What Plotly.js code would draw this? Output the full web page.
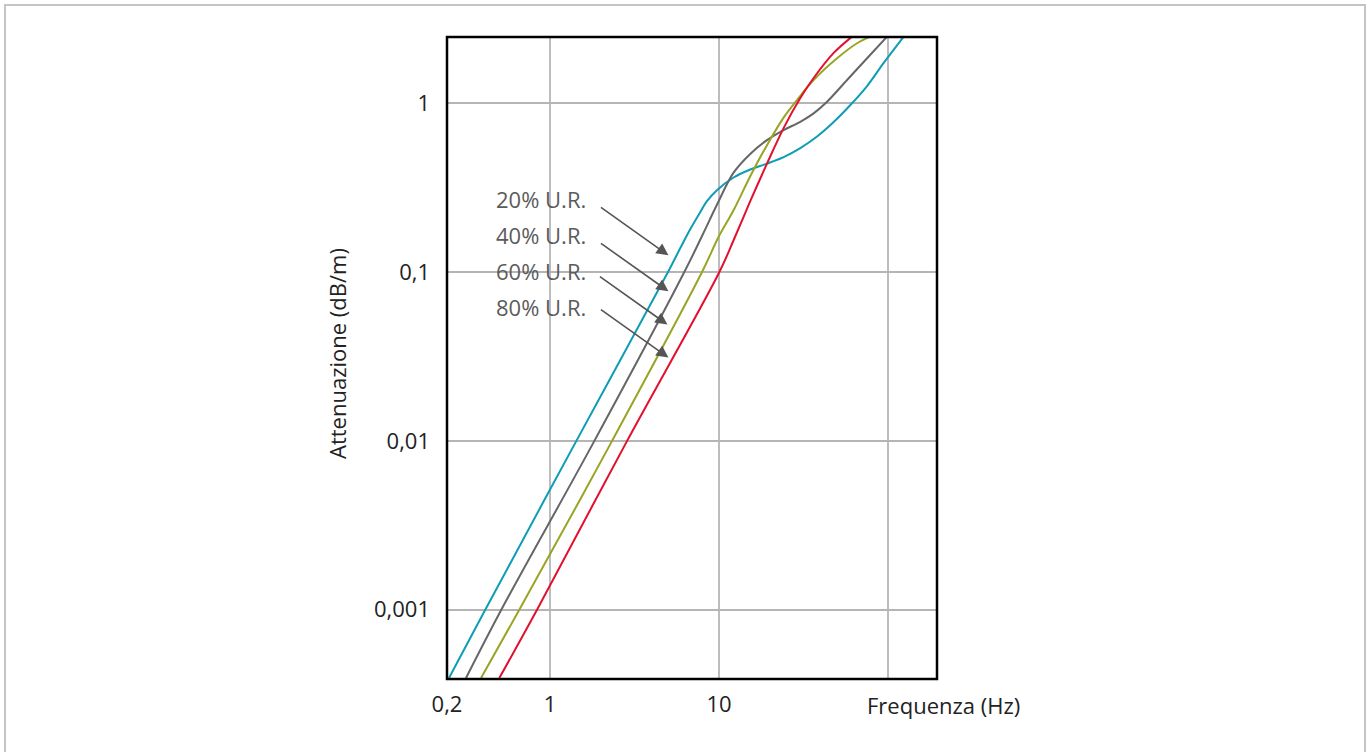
<!DOCTYPE html>
<html><head><meta charset="utf-8">
<script src="https://cdn.plot.ly/plotly-3.0.1.min.js"></script>
<style>
html,body{margin:0;padding:0;overflow:hidden;background:#fff}
#frame{position:absolute;left:4px;top:4px;width:1362px;height:820px;border:2px solid #c4c4c4;box-sizing:border-box;pointer-events:none}
</style>
</head><body>
<div id="chart" style="width:1371px;height:752px"></div>
<div id="frame"></div>
<script>
// Frequency (Hz) and attenuation (dB/m)
const freq20 = [0.2522, 0.412, 1.426, 4.981, 5.89, 6.751, 7.737, 8.479, 9.718, 12.19, 15.30, 19.22, 24.11, 30.27, 38.02, 47.70, 59.87, 75.19, 94.30, 123.9];
const att20  = [0.000394, 0.000993, 0.00993, 0.0995, 0.138, 0.1789, 0.2257, 0.2623, 0.3048, 0.3625, 0.4043, 0.4377, 0.4784, 0.5408, 0.633, 0.7716, 0.9731, 1.261, 1.727, 2.473];

const freq40 = [0.318, 0.5126, 1.823, 6.22, 7.918, 9.718, 12.19, 15.30, 19.22, 24.11, 30.27, 36.30, 43.58, 57.25, 75.19, 98.79];
const att40  = [0.000394, 0.000993, 0.00993, 0.0995, 0.1627, 0.25, 0.387, 0.4995, 0.6033, 0.6914, 0.7747, 0.8688, 1.018, 1.369, 1.841, 2.473];

const freq60 = [0.3903, 0.6551, 2.32, 7.918, 9.932, 12.19, 15.30, 19.22, 24.11, 28.94, 36.30, 49.94, 65.60, 78.65];
const att60  = [0.000394, 0.000993, 0.00993, 0.0995, 0.1611, 0.2319, 0.369, 0.5634, 0.8203, 1.042, 1.369, 1.841, 2.26, 2.473];

const freq80 = [0.5007, 0.8341, 2.847, 10.03, 12.19, 15.30, 19.22, 24.11, 30.27, 36.30, 47.70, 61.26];
const att80  = [0.000394, 0.000993, 0.00993, 0.0995, 0.154, 0.2623, 0.4377, 0.7107, 1.071, 1.407, 1.98, 2.473];

const seriesNames = ['20% U.R.', '40% U.R.', '60% U.R.', '80% U.R.'];
const seriesColors = ['#0d9db5', '#666666', '#9aa423', '#e2102e'];

const xTickVals = [0.2455, 1, 10, 100];
const xTickText = ['0,2', '1', '10', ''];
const yTickVals = [0.001, 0.01, 0.1, 1];
const yTickText = ['0,001', '0,01', '0,1', '1'];

const xTitle = 'Frequenza (Hz)';
const yTitle = 'Attenuazione (dB/m)';

const FONT = '"Open Sans", "DejaVu Sans", sans-serif';
const FS = 22;
const xs = [freq20, freq40, freq60, freq80];
const ys = [att20, att40, att60, att80];

const traces = xs.map((x, i) => ({
  type: 'scatter', mode: 'lines', x: x, y: ys[i], name: seriesNames[i],
  line: {color: seriesColors[i], width: 2, shape: 'spline', smoothing: 1.0},
  hoverinfo: 'x+y+name'
}));

const lx = v => Math.log10(v);
// arrow heads (on curves) and label positions
const arrowTargets = [[5.02, 0.1254], [5.02, 0.0768], [4.95, 0.0488], [5.02, 0.0311]];
const labelY = [199, 235, 271, 307];

const annotations = [];
seriesNames.forEach((n, i) => {
  annotations.push({
    xref: 'paper', yref: 'paper', x: (494 - 447) / 490, y: (679 - labelY[i]) / 642,
    xanchor: 'left', yanchor: 'middle', showarrow: false, text: n,
    font: {family: FONT, size: FS, color: '#5b5b5b'}
  });
  annotations.push({
    x: lx(arrowTargets[i][0]), y: lx(arrowTargets[i][1]), xref: 'x', yref: 'y',
    text: '', showarrow: true, arrowhead: 2, arrowsize: 1.5, arrowwidth: 1.6,
    arrowcolor: '#555555', ax: -69, ay: -49, standoff: 0
  });
});
annotations.push({
  xref: 'paper', yref: 'paper', x: (943 - 447) / 490, y: (679 - 705) / 642,
  xanchor: 'center', yanchor: 'middle', showarrow: false, text: xTitle,
  font: {family: FONT, size: FS, color: '#222'}
});
annotations.push({
  xref: 'paper', yref: 'paper', x: (337 - 447) / 490, y: (679 - 354) / 642,
  xanchor: 'center', yanchor: 'middle', showarrow: false, text: yTitle, textangle: -90,
  font: {family: FONT, size: FS, color: '#222'}
});

const layout = {
  width: 1371, height: 752,
  margin: {l: 447, r: 434, t: 37, b: 73, pad: 0},
  paper_bgcolor: '#ffffff', plot_bgcolor: '#ffffff',
  showlegend: false,
  font: {family: FONT, size: FS, color: '#222'},
  xaxis: {
    type: 'log', range: [-0.610, 2.290], tickvals: xTickVals, ticktext: xTickText,
    showgrid: true, gridcolor: '#bdbdbd', gridwidth: 1.5, zeroline: false,
    showline: false, ticks: '', ticklabelstandoff: 10,
    tickfont: {family: FONT, size: FS, color: '#222'}
  },
  yaxis: {
    type: 'log', range: [-3.410, 0.391], tickvals: yTickVals, ticktext: yTickText,
    showgrid: true, gridcolor: '#b5b5b5', gridwidth: 1.5, zeroline: false,
    showline: false, ticks: '', ticklabelstandoff: 16,
    tickfont: {family: FONT, size: FS, color: '#222'}
  },
  shapes: [{
    type: 'rect', xref: 'paper', yref: 'paper', x0: 0, x1: 1, y0: 0, y1: 1,
    line: {color: '#000', width: 2.5}, layer: 'above'
  }],
  annotations: annotations
};

Plotly.newPlot('chart', traces, layout, {displayModeBar: false, staticPlot: true});
</script>
</body></html>
